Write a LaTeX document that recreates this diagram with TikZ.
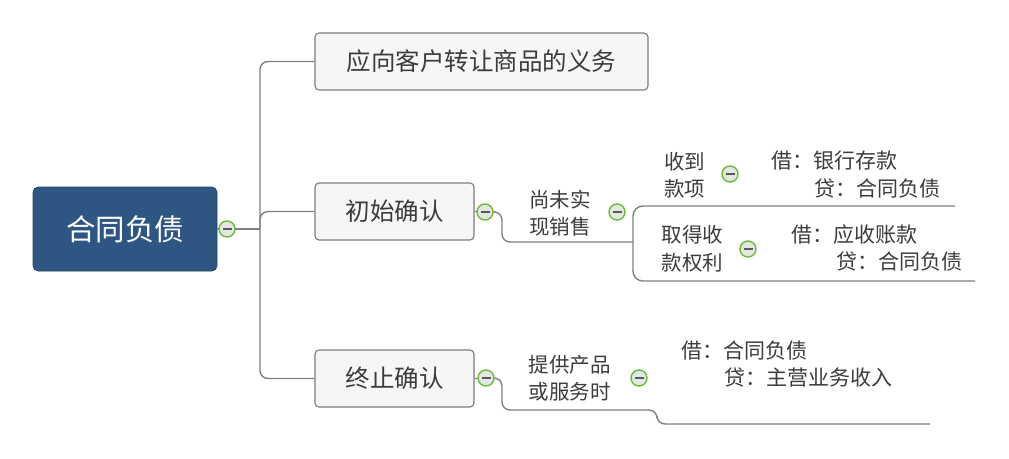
\documentclass[tikz,border=0pt]{standalone}
\usepackage{fontspec}
\setmainfont{Noto Sans CJK SC}
\definecolor{rootblue}{RGB}{47,85,131}
\definecolor{linegray}{RGB}{128,128,128}
\definecolor{boxfill}{RGB}{246,246,246}
\definecolor{boxline}{RGB}{125,125,125}
\definecolor{txt}{RGB}{60,60,60}
\definecolor{togglegreen}{RGB}{110,185,60}
\definecolor{togglefill}{RGB}{225,232,225}
\begin{document}
\begin{tikzpicture}[x=1pt,y=-1pt,
  conn/.style={draw=linegray,line width=1.4pt,rounded corners=8pt},
  rootbox/.style={rectangle,rounded corners=5pt,fill=rootblue,draw=rootblue!80!black,line width=0.6pt,
    minimum width=184pt,minimum height=84pt,text=white,font=\fontsize{29.5}{33}\selectfont,inner sep=0pt},
  mainbox/.style={rectangle,rounded corners=4pt,fill=boxfill,draw=boxline,line width=1.1pt,
    minimum height=57pt,text=txt,font=\fontsize{24.5}{28}\selectfont,inner sep=0pt},
  subtxt/.style={text=txt,font=\fontsize{20.5}{27.5}\selectfont,inner sep=0pt,align=left},
  leaftxt/.style={text=txt,font=\fontsize{21}{27}\selectfont,inner sep=0pt,anchor=west},
  toggle/.style={circle,draw=togglegreen,line width=1.4pt,fill=togglefill,minimum size=16pt,inner sep=0pt,
    path picture={\draw[draw=black!65,line width=2.2pt]
      ([xshift=-4.5pt]path picture bounding box.center) -- ([xshift=4.5pt]path picture bounding box.center);}}
]
\useasboundingbox[fill=white] (0,0) rectangle (1009,458);

% main nodes
\node[rootbox] (root) at (125,229) {合同负债};
\node[mainbox,minimum width=333pt] (b1) at (481.5,61.5) {应向客户转让商品的义务};
\node[mainbox,minimum width=159pt] (b2) at (394.5,211.5) {初始确认};
\node[mainbox,minimum width=159pt] (b3) at (394.5,378.5) {终止确认};

% sub topics
\node[subtxt,align=center] (s1) at (560,213) {尚未实\\现销售};
\node[subtxt] (s11) at (684.5,175) {收到\\款项};
\node[subtxt] (s12) at (692.5,249) {取得收\\款权利};
\node[subtxt,align=center] (s2) at (569.5,378) {提供产品\\或服务时};

% leaves
\node[leaftxt] (l11a) at (771,161) {借：银行存款};
\node[leaftxt] (l11b) at (814,189) {贷：合同负债};
\node[leaftxt] (l12a) at (791,235) {借：应收账款};
\node[leaftxt] (l12b) at (836,262) {贷：合同负债};
\node[leaftxt] (l2a) at (681,351) {借：合同负债};
\node[leaftxt] (l2b) at (724,378) {贷：主营业务收入};

% coordinates
\coordinate (tb) at (260,229);
\coordinate (k1) at (502,212);
\coordinate (j1) at (633,242);
\coordinate (e1) at (955,206);
\coordinate (e2) at (975,281);
\coordinate (k3) at (502,378);
\coordinate (m1) at (657,410);
\coordinate (e3) at (930,424);

% connectors
\draw[conn] (root.east) -- (tb);
\draw[conn] (b1.west) -| (tb) |- (b3.west);
\draw[conn] (tb) |- (b2.west);
\draw[conn] (b2.east) -- (k1) |- (j1);
\draw[conn,rounded corners=10pt] (e1) -| (j1) |- (e2);
\draw[conn] (b3.east) -- (k3) |- (m1) |- (e3);

% toggle buttons
\node[toggle] (c0) at (227,229) {};
\node[toggle] (c1) at (485,212) {};
\node[toggle] (c2) at (617,212) {};
\node[toggle] (c3) at (730,174) {};
\node[toggle] (c4) at (748,249) {};
\node[toggle] (c5) at (486,378) {};
\node[toggle] (c6) at (639,378) {};
\end{tikzpicture}
\end{document}
